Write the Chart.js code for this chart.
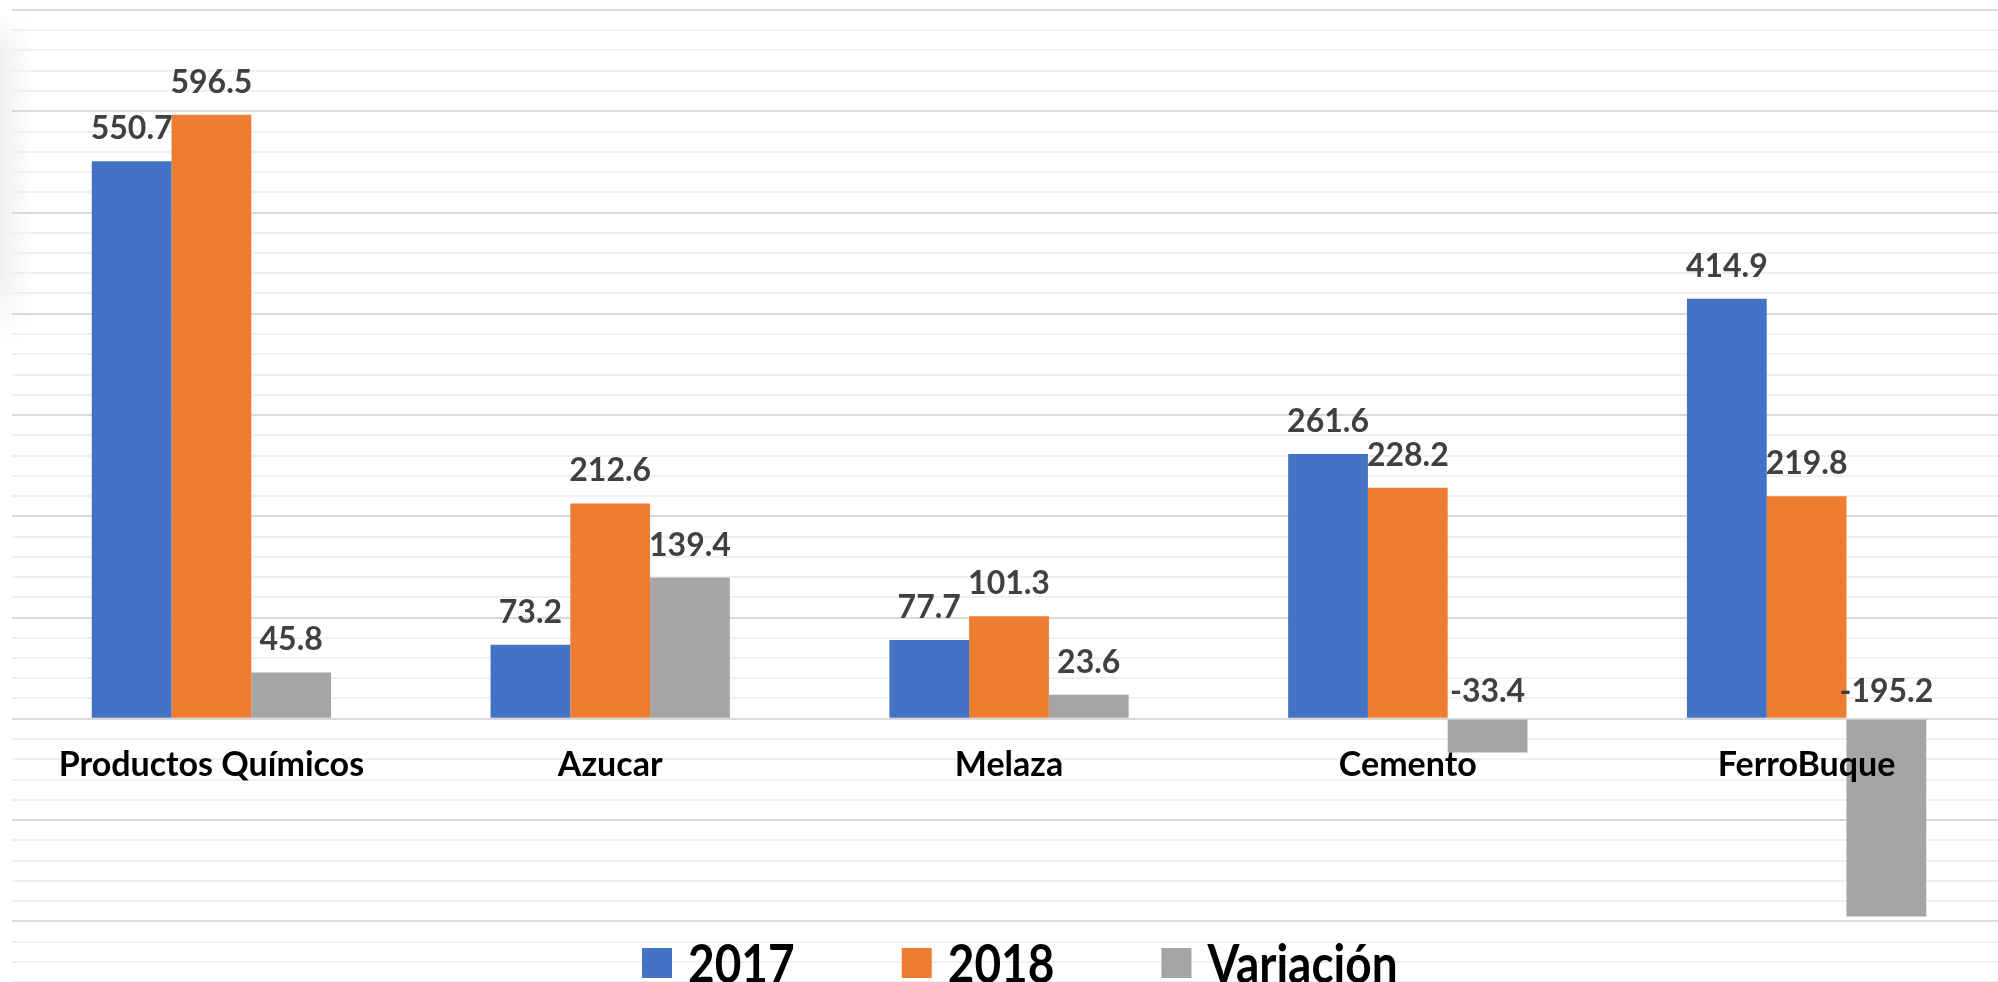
<!DOCTYPE html>
<html>
<head>
<meta charset="utf-8">
<script src="https://cdn.jsdelivr.net/npm/chart.js@4"></script>
<style>
  html, body { margin: 0; padding: 0; background: #fff; overflow: hidden; }
  #wrap { position: relative; width: 2010px; height: 982px; }
</style>
</head>
<body>
<div id="wrap"><canvas id="chart"></canvas></div>
<script>
const categories = ["Productos Químicos", "Azucar", "Melaza", "Cemento", "FerroBuque"];
const values2017 = [550.7, 73.2, 77.7, 261.6, 414.9];
const values2018 = [596.5, 212.6, 101.3, 228.2, 219.8];
const variacion = [45.8, 139.4, 23.6, -33.4, -195.2];
const seriesNames = ["2017", "2018", "Variación"];
const seriesColors = ["#4472C4", "#ED7D31", "#A5A5A5"];

const FONT = "Lato, 'Open Sans', sans-serif";

// faint shadow on the left edge of the original screenshot
const edgeShadow = {
  id: "edgeShadow",
  beforeDraw(chart) {
    const ctx = chart.ctx;
    ctx.save();
    const g = ctx.createLinearGradient(0, 0, 34, 0);
    g.addColorStop(0, "rgba(0,0,0,0.06)");
    g.addColorStop(1, "rgba(0,0,0,0)");
    const v = ctx.createLinearGradient(0, 15, 0, 340);
    v.addColorStop(0, "rgba(255,255,255,0.9)");
    v.addColorStop(0.12, "rgba(255,255,255,0)");
    v.addColorStop(0.8, "rgba(255,255,255,0)");
    v.addColorStop(1, "rgba(255,255,255,0.95)");
    ctx.fillStyle = g;
    ctx.fillRect(0, 15, 34, 325);
    ctx.fillStyle = v;
    ctx.fillRect(0, 15, 34, 325);
    ctx.restore();
  }
};

// value labels above each bar, category names under the zero line
const barLabels = {
  id: "barLabels",
  afterDatasetsDraw(chart) {
    const ctx = chart.ctx;
    const y = chart.scales.y;
    const x = chart.scales.x;
    const zero = y.getPixelForValue(0);
    ctx.save();
    ctx.textAlign = "center";
    ctx.textBaseline = "alphabetic";
    ctx.font = "bold 32px " + FONT;
    ctx.fillStyle = "#404040";
    chart.data.datasets.forEach((ds, di) => {
      chart.getDatasetMeta(di).data.forEach((bar, i) => {
        const v = ds.data[i];
        const ty = v >= 0 ? bar.y - 22 : zero - 17;
        ctx.fillText(v.toFixed(1), bar.x, ty);
      });
    });
    ctx.fillStyle = "#000";
    ctx.font = "bold 34px " + FONT;
    categories.forEach((c, i) => {
      ctx.fillText(c, x.getPixelForValue(i), zero + 57);
    });
    ctx.restore();
  }
};

// legend drawn on top of the grid at the bottom
const bottomLegend = {
  id: "bottomLegend",
  afterDraw(chart) {
    const ctx = chart.ctx;
    ctx.save();
    ctx.font = "bold 46px " + FONT;
    ctx.textBaseline = "alphabetic";
    let cx = 642;
    seriesNames.forEach((name, i) => {
      ctx.fillStyle = seriesColors[i];
      ctx.fillRect(cx, 948, 30, 30);
      const tx = cx + 46;
      ctx.save();
      ctx.translate(tx, 983);
      ctx.scale(1, 1.15);
      ctx.fillStyle = "#000";
      ctx.fillText(name, 0, 0);
      ctx.restore();
      cx = tx + ctx.measureText(name).width + 107;
    });
    ctx.restore();
  }
};

new Chart(document.getElementById("chart"), {
  type: "bar",
  data: {
    labels: categories,
    datasets: [
      { label: seriesNames[0], data: values2017, backgroundColor: seriesColors[0] },
      { label: seriesNames[1], data: values2018, backgroundColor: seriesColors[1] },
      { label: seriesNames[2], data: variacion, backgroundColor: seriesColors[2] }
    ]
  },
  options: {
    responsive: true,
    maintainAspectRatio: false,
    animation: false,
    layout: { padding: { left: 12, right: 4, top: 10, bottom: 0 } },
    datasets: {
      bar: { categoryPercentage: 0.6, barPercentage: 1.0 }
    },
    plugins: {
      legend: { display: false },
      tooltip: { enabled: false }
    },
    scales: {
      x: { display: false },
      y: {
        min: -260,
        max: 700,
        ticks: { display: false, stepSize: 20 },
        border: { display: false },
        grid: {
          drawTicks: false,
          color: (c) => (c.tick && c.tick.value % 100 === 0 ? "#d9d9d9" : "#f0f0f0"),
          lineWidth: 2
        }
      }
    }
  },
  plugins: [edgeShadow, barLabels, bottomLegend]
});
</script>
</body>
</html>
